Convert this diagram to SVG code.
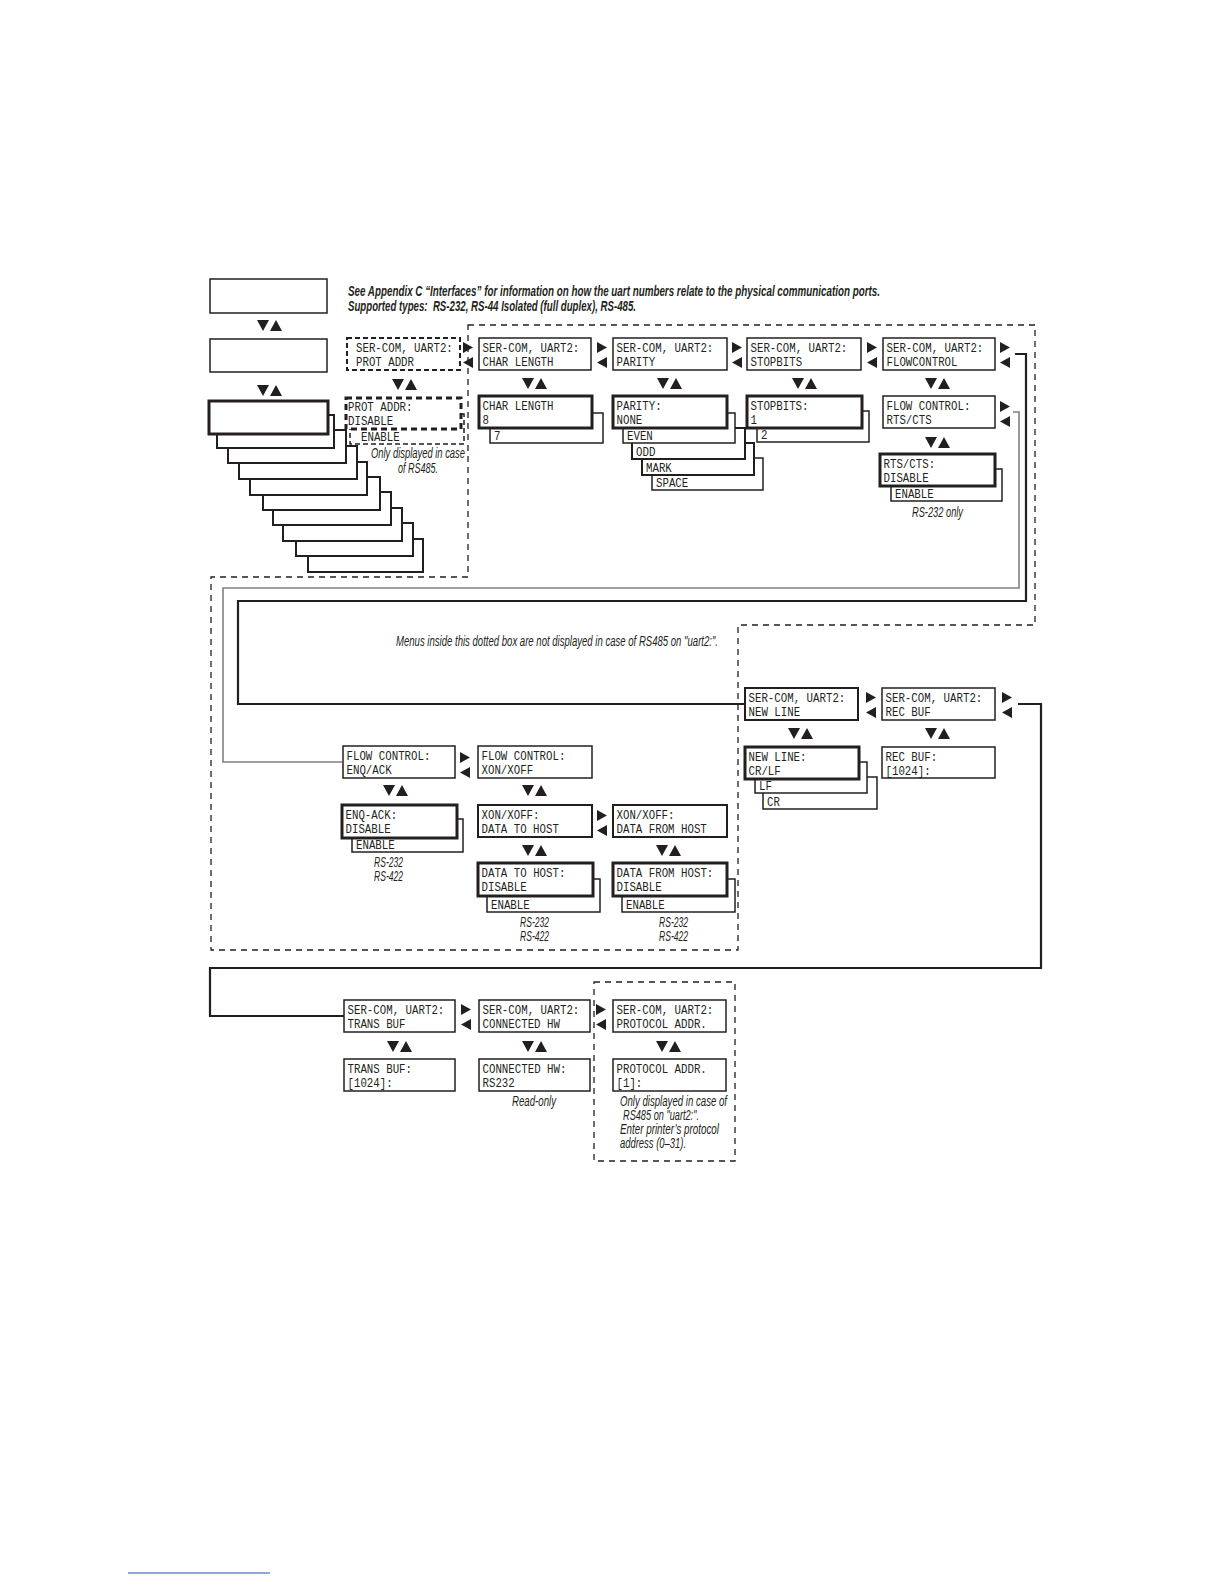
<svg xmlns="http://www.w3.org/2000/svg" width="1224" height="1584" viewBox="0 0 1224 1584">
<style>
.b{fill:#fff;stroke:#231f20;stroke-width:1.5}
.b2{fill:#fff;stroke:#231f20;stroke-width:2}
.k{fill:#fff;stroke:#231f20;stroke-width:3}
.m{font-family:"Liberation Mono","DejaVu Sans Mono",monospace;font-size:12.2px;fill:#231f20}
.n{font-family:"Liberation Sans",Arial,sans-serif;font-style:italic;font-size:14.5px;fill:#231f20}
.h{font-family:"Liberation Sans",Arial,sans-serif;font-style:italic;font-weight:bold;font-size:14px;fill:#231f20}
.d{fill:none;stroke:#231f20;stroke-width:1.3;stroke-dasharray:6 5}
.t{fill:#231f20}
.c{fill:none;stroke:#231f20;stroke-width:2.2}
.g{fill:none;stroke:#808080;stroke-width:1.6}
</style>
<defs>
<g id="lr"><path d="M0,0L10,5.5L0,11Z"/><path d="M10,15L0,20.5L10,26Z"/></g>
<path id="ud" d="M0,0H12L6,11Z M13,11H25L19,0Z"/>
</defs>
<rect width="1224" height="1584" fill="#fff"/>

<g id="header-notes">
<text class="h" x="348" y="296" textLength="532" lengthAdjust="spacingAndGlyphs">See Appendix C “Interfaces” for information on how the uart numbers relate to the physical communication ports.</text>
<text class="h" x="348" y="310.5" textLength="288" lengthAdjust="spacingAndGlyphs" xml:space="preserve">Supported types:  RS-232, RS-44 Isolated (full duplex), RS-485.</text>
</g>

<g id="regions">
<path class="d" d="M468,325H1035V625H738V950H211V577H468Z"/>
<rect class="d" x="594" y="982" width="141" height="179"/>
</g>

<g id="connectors">
<path class="g" d="M1013,412H1019V588H223V762H342"/>
<path class="c" d="M1015,354H1026V601H238V704H745"/>
<path class="c" d="M1018,704H1041V968H210V1016H344"/>
<g class="t">
<use href="#lr" x="463" y="342"/>
<use href="#lr" x="597" y="342"/>
<use href="#lr" x="732" y="342"/>
<use href="#lr" x="867" y="342"/>
<use href="#lr" x="1000" y="342"/>
<use href="#lr" x="1000" y="401"/>
<use href="#lr" x="460" y="752"/>
<use href="#lr" x="597" y="810"/>
<use href="#lr" x="866" y="692"/>
<use href="#lr" x="1002" y="692"/>
<use href="#lr" x="461" y="1004"/>
<use href="#lr" x="596" y="1004"/>
<use href="#ud" x="257" y="320"/>
<use href="#ud" x="257" y="385"/>
<use href="#ud" x="392" y="379"/>
<use href="#ud" x="522" y="378"/>
<use href="#ud" x="657" y="378"/>
<use href="#ud" x="792" y="378"/>
<use href="#ud" x="925" y="378"/>
<use href="#ud" x="925" y="437"/>
<use href="#ud" x="383" y="785"/>
<use href="#ud" x="522" y="785"/>
<use href="#ud" x="522" y="845"/>
<use href="#ud" x="656" y="845"/>
<use href="#ud" x="788" y="728"/>
<use href="#ud" x="925" y="728"/>
<use href="#ud" x="387" y="1041"/>
<use href="#ud" x="522" y="1041"/>
<use href="#ud" x="656" y="1041"/>
</g>
</g>

<g id="menu-top"><rect class="b" x="210" y="279" width="117" height="34"/></g>
<g id="menu-second"><rect class="b" x="210" y="339" width="117" height="33"/></g>
<g id="menu-stack">
<rect class="b2" x="308" y="539" width="115" height="33"/>
<rect class="b2" x="296" y="523" width="117" height="33"/>
<rect class="b2" x="283" y="508" width="119" height="33"/>
<rect class="b2" x="273" y="492" width="118" height="33"/>
<rect class="b2" x="263" y="477" width="117" height="33"/>
<rect class="b2" x="250" y="462" width="117" height="33"/>
<rect class="b2" x="239" y="446" width="118" height="33"/>
<rect class="b2" x="228" y="430" width="118" height="33"/>
<rect class="b2" x="217" y="415" width="117" height="33"/>
<rect class="k" x="209" y="401" width="119" height="33"/>
</g>

<g id="prot-addr-header">
<rect x="347" y="338" width="113" height="32" fill="#fff" stroke="#231f20" stroke-width="2" stroke-dasharray="5 3"/>
<text class="m" x="356" y="351.5" textLength="96.8" lengthAdjust="spacingAndGlyphs">SER-COM, UART2:</text>
<text class="m" x="356" y="365.5" textLength="58" lengthAdjust="spacingAndGlyphs">PROT ADDR</text>
</g>
<g id="prot-addr-value">
<rect x="350" y="414" width="114" height="30" fill="#fff" stroke="#231f20" stroke-width="1.5" stroke-dasharray="5 3"/>
<text class="m" x="361" y="441" textLength="38.7" lengthAdjust="spacingAndGlyphs">ENABLE</text>
<rect x="346" y="398" width="115" height="31" fill="#fff" stroke="#231f20" stroke-width="3" stroke-dasharray="6 4"/>
<text class="m" x="348" y="411" textLength="64.5" lengthAdjust="spacingAndGlyphs">PROT ADDR:</text>
<text class="m" x="348" y="425" textLength="45.2" lengthAdjust="spacingAndGlyphs">DISABLE</text>
<text class="n" x="371" y="458" textLength="94" lengthAdjust="spacingAndGlyphs">Only displayed in case</text>
<text class="n" x="398" y="473" textLength="40" lengthAdjust="spacingAndGlyphs">of RS485.</text>
</g>

<g id="char-length-header">
<rect class="b" x="479" y="338" width="112" height="32"/>
<text class="m" x="482.5" y="351.5" textLength="96.8" lengthAdjust="spacingAndGlyphs">SER-COM, UART2:</text>
<text class="m" x="482.5" y="365.5" textLength="71" lengthAdjust="spacingAndGlyphs">CHAR LENGTH</text>
</g>
<g id="char-length-value">
<rect class="b" x="490" y="413" width="113" height="30"/>
<text class="m" x="494" y="440" textLength="6.45" lengthAdjust="spacingAndGlyphs">7</text>
<rect class="k" x="479" y="396" width="113" height="32"/>
<text class="m" x="482.5" y="409.5" textLength="71" lengthAdjust="spacingAndGlyphs">CHAR LENGTH</text>
<text class="m" x="482.5" y="423.5" textLength="6.45" lengthAdjust="spacingAndGlyphs">8</text>
</g>

<g id="parity-header">
<rect class="b" x="613" y="338" width="114" height="32"/>
<text class="m" x="616.5" y="351.5" textLength="96.8" lengthAdjust="spacingAndGlyphs">SER-COM, UART2:</text>
<text class="m" x="616.5" y="365.5" textLength="38.7" lengthAdjust="spacingAndGlyphs">PARITY</text>
</g>
<g id="parity-value">
<rect class="b" x="652" y="458" width="111" height="32"/>
<text class="m" x="656" y="486.5" textLength="32.3" lengthAdjust="spacingAndGlyphs">SPACE</text>
<rect class="b2" x="642" y="443" width="112" height="32"/>
<text class="m" x="646" y="471.5" textLength="25.8" lengthAdjust="spacingAndGlyphs">MARK</text>
<rect class="b2" x="632" y="428" width="113" height="31"/>
<text class="m" x="636" y="455.5" textLength="19.4" lengthAdjust="spacingAndGlyphs">ODD</text>
<rect class="b" x="623" y="413" width="112" height="30"/>
<text class="m" x="627" y="440" textLength="25.8" lengthAdjust="spacingAndGlyphs">EVEN</text>
<rect class="k" x="613" y="396" width="114" height="32"/>
<text class="m" x="616.5" y="409.5" textLength="45.2" lengthAdjust="spacingAndGlyphs">PARITY:</text>
<text class="m" x="616.5" y="423.5" textLength="25.8" lengthAdjust="spacingAndGlyphs">NONE</text>
</g>

<g id="stopbits-header">
<rect class="b" x="747" y="338" width="114" height="32"/>
<text class="m" x="750.5" y="351.5" textLength="96.8" lengthAdjust="spacingAndGlyphs">SER-COM, UART2:</text>
<text class="m" x="750.5" y="365.5" textLength="51.6" lengthAdjust="spacingAndGlyphs">STOPBITS</text>
</g>
<g id="stopbits-value">
<rect class="b" x="757" y="411" width="112" height="31"/>
<text class="m" x="761" y="438.5" textLength="6.45" lengthAdjust="spacingAndGlyphs">2</text>
<rect class="k" x="747" y="396" width="115" height="32"/>
<text class="m" x="750.5" y="409.5" textLength="58" lengthAdjust="spacingAndGlyphs">STOPBITS:</text>
<text class="m" x="750.5" y="423.5" textLength="6.45" lengthAdjust="spacingAndGlyphs">1</text>
</g>

<g id="flowcontrol-header">
<rect class="b" x="883" y="338" width="112" height="32"/>
<text class="m" x="886.5" y="351.5" textLength="96.8" lengthAdjust="spacingAndGlyphs">SER-COM, UART2:</text>
<text class="m" x="886.5" y="365.5" textLength="71" lengthAdjust="spacingAndGlyphs">FLOWCONTROL</text>
</g>
<g id="flowcontrol-rtscts">
<rect class="b" x="883" y="396" width="112" height="32"/>
<text class="m" x="886.5" y="409.5" textLength="83.9" lengthAdjust="spacingAndGlyphs">FLOW CONTROL:</text>
<text class="m" x="886.5" y="423.5" textLength="45.2" lengthAdjust="spacingAndGlyphs">RTS/CTS</text>
</g>
<g id="rtscts-value">
<rect class="b" x="891" y="469" width="111" height="32"/>
<text class="m" x="895" y="497.5" textLength="38.7" lengthAdjust="spacingAndGlyphs">ENABLE</text>
<rect class="k" x="880" y="454" width="115" height="32"/>
<text class="m" x="883.5" y="467.5" textLength="51.6" lengthAdjust="spacingAndGlyphs">RTS/CTS:</text>
<text class="m" x="883.5" y="481.5" textLength="45.2" lengthAdjust="spacingAndGlyphs">DISABLE</text>
<text class="n" x="912" y="517" textLength="51" lengthAdjust="spacingAndGlyphs">RS-232 only</text>
</g>

<g id="dotted-note">
<text class="n" x="396" y="646" textLength="322" lengthAdjust="spacingAndGlyphs">Menus inside this dotted box are not displayed in case of RS485 on "uart2:".</text>
</g>

<g id="flowcontrol-enqack">
<rect class="b" x="343" y="746" width="112" height="32"/>
<text class="m" x="346.5" y="759.5" textLength="83.9" lengthAdjust="spacingAndGlyphs">FLOW CONTROL:</text>
<text class="m" x="346.5" y="773.5" textLength="45.2" lengthAdjust="spacingAndGlyphs">ENQ/ACK</text>
</g>
<g id="enqack-value">
<rect class="b" x="352" y="819" width="111" height="33"/>
<text class="m" x="356" y="848.5" textLength="38.7" lengthAdjust="spacingAndGlyphs">ENABLE</text>
<rect class="k" x="342" y="805" width="115" height="33"/>
<text class="m" x="345.5" y="818.5" textLength="51.6" lengthAdjust="spacingAndGlyphs">ENQ-ACK:</text>
<text class="m" x="345.5" y="832.5" textLength="45.2" lengthAdjust="spacingAndGlyphs">DISABLE</text>
<text class="n" x="374" y="867" textLength="29" lengthAdjust="spacingAndGlyphs">RS-232</text>
<text class="n" x="374" y="881" textLength="29" lengthAdjust="spacingAndGlyphs">RS-422</text>
</g>

<g id="flowcontrol-xonxoff">
<rect class="b" x="478" y="746" width="114" height="32"/>
<text class="m" x="481.5" y="759.5" textLength="83.9" lengthAdjust="spacingAndGlyphs">FLOW CONTROL:</text>
<text class="m" x="481.5" y="773.5" textLength="51.6" lengthAdjust="spacingAndGlyphs">XON/XOFF</text>
</g>
<g id="xonxoff-to-host">
<rect class="b2" x="478" y="805" width="114" height="32"/>
<text class="m" x="481.5" y="818.5" textLength="58" lengthAdjust="spacingAndGlyphs">XON/XOFF:</text>
<text class="m" x="481.5" y="832.5" textLength="77.4" lengthAdjust="spacingAndGlyphs">DATA TO HOST</text>
</g>
<g id="xonxoff-from-host">
<rect class="b2" x="613" y="805" width="114" height="32"/>
<text class="m" x="616.5" y="818.5" textLength="58" lengthAdjust="spacingAndGlyphs">XON/XOFF:</text>
<text class="m" x="616.5" y="832.5" textLength="90.3" lengthAdjust="spacingAndGlyphs">DATA FROM HOST</text>
</g>
<g id="to-host-value">
<rect class="b" x="487" y="879" width="113" height="33"/>
<text class="m" x="491" y="908.5" textLength="38.7" lengthAdjust="spacingAndGlyphs">ENABLE</text>
<rect class="k" x="478" y="863" width="115" height="33"/>
<text class="m" x="481.5" y="876.5" textLength="83.9" lengthAdjust="spacingAndGlyphs">DATA TO HOST:</text>
<text class="m" x="481.5" y="890.5" textLength="45.2" lengthAdjust="spacingAndGlyphs">DISABLE</text>
<text class="n" x="520" y="927" textLength="29" lengthAdjust="spacingAndGlyphs">RS-232</text>
<text class="n" x="520" y="941" textLength="29" lengthAdjust="spacingAndGlyphs">RS-422</text>
</g>
<g id="from-host-value">
<rect class="b" x="622" y="879" width="113" height="33"/>
<text class="m" x="626" y="908.5" textLength="38.7" lengthAdjust="spacingAndGlyphs">ENABLE</text>
<rect class="k" x="613" y="863" width="114" height="33"/>
<text class="m" x="616.5" y="876.5" textLength="96.8" lengthAdjust="spacingAndGlyphs">DATA FROM HOST:</text>
<text class="m" x="616.5" y="890.5" textLength="45.2" lengthAdjust="spacingAndGlyphs">DISABLE</text>
<text class="n" x="659" y="927" textLength="29" lengthAdjust="spacingAndGlyphs">RS-232</text>
<text class="n" x="659" y="941" textLength="29" lengthAdjust="spacingAndGlyphs">RS-422</text>
</g>

<g id="newline-header">
<rect class="b2" x="745" y="688" width="113" height="32"/>
<text class="m" x="748.5" y="701.5" textLength="96.8" lengthAdjust="spacingAndGlyphs">SER-COM, UART2:</text>
<text class="m" x="748.5" y="715.5" textLength="51.6" lengthAdjust="spacingAndGlyphs">NEW LINE</text>
</g>
<g id="newline-value">
<rect class="b" x="763" y="777" width="114" height="32"/>
<text class="m" x="767" y="805.5" textLength="12.9" lengthAdjust="spacingAndGlyphs">CR</text>
<rect class="b" x="755" y="762" width="112" height="31"/>
<text class="m" x="759" y="789.5" textLength="12.9" lengthAdjust="spacingAndGlyphs">LF</text>
<rect class="k" x="745" y="747" width="114" height="32"/>
<text class="m" x="748.5" y="760.5" textLength="58" lengthAdjust="spacingAndGlyphs">NEW LINE:</text>
<text class="m" x="748.5" y="774.5" textLength="32.3" lengthAdjust="spacingAndGlyphs">CR/LF</text>
</g>
<g id="recbuf-header">
<rect class="b" x="882" y="688" width="113" height="32"/>
<text class="m" x="885.5" y="701.5" textLength="96.8" lengthAdjust="spacingAndGlyphs">SER-COM, UART2:</text>
<text class="m" x="885.5" y="715.5" textLength="45.2" lengthAdjust="spacingAndGlyphs">REC BUF</text>
</g>
<g id="recbuf-value">
<rect class="b" x="882" y="747" width="113" height="31"/>
<text class="m" x="885.5" y="760.5" textLength="51.6" lengthAdjust="spacingAndGlyphs">REC BUF:</text>
<text class="m" x="885.5" y="774.5" textLength="45.2" lengthAdjust="spacingAndGlyphs">[1024]:</text>
</g>

<g id="transbuf-header">
<rect class="b" x="344" y="1000" width="111" height="32"/>
<text class="m" x="347.5" y="1013.5" textLength="96.8" lengthAdjust="spacingAndGlyphs">SER-COM, UART2:</text>
<text class="m" x="347.5" y="1027.5" textLength="58" lengthAdjust="spacingAndGlyphs">TRANS BUF</text>
</g>
<g id="transbuf-value">
<rect class="b" x="344" y="1059" width="111" height="32"/>
<text class="m" x="347.5" y="1072.5" textLength="64.5" lengthAdjust="spacingAndGlyphs">TRANS BUF:</text>
<text class="m" x="347.5" y="1086.5" textLength="45.2" lengthAdjust="spacingAndGlyphs">[1024]:</text>
</g>
<g id="connectedhw-header">
<rect class="b" x="479" y="1000" width="111" height="32"/>
<text class="m" x="482.5" y="1013.5" textLength="96.8" lengthAdjust="spacingAndGlyphs">SER-COM, UART2:</text>
<text class="m" x="482.5" y="1027.5" textLength="77.4" lengthAdjust="spacingAndGlyphs">CONNECTED HW</text>
</g>
<g id="connectedhw-value">
<rect class="b" x="479" y="1059" width="111" height="32"/>
<text class="m" x="482.5" y="1072.5" textLength="83.9" lengthAdjust="spacingAndGlyphs">CONNECTED HW:</text>
<text class="m" x="482.5" y="1086.5" textLength="32.3" lengthAdjust="spacingAndGlyphs">RS232</text>
<text class="n" x="512" y="1106" textLength="44" lengthAdjust="spacingAndGlyphs">Read-only</text>
</g>
<g id="protocoladdr-header">
<rect class="b" x="613" y="1000" width="113" height="32"/>
<text class="m" x="616.5" y="1013.5" textLength="96.8" lengthAdjust="spacingAndGlyphs">SER-COM, UART2:</text>
<text class="m" x="616.5" y="1027.5" textLength="90.3" lengthAdjust="spacingAndGlyphs">PROTOCOL ADDR.</text>
</g>
<g id="protocoladdr-value">
<rect class="b" x="613" y="1059" width="113" height="32"/>
<text class="m" x="616.5" y="1072.5" textLength="90.3" lengthAdjust="spacingAndGlyphs">PROTOCOL ADDR.</text>
<text class="m" x="616.5" y="1086.5" textLength="25.8" lengthAdjust="spacingAndGlyphs">[1]:</text>
<text class="n" x="620" y="1106" textLength="107" lengthAdjust="spacingAndGlyphs">Only displayed in case of</text>
<text class="n" x="623" y="1120" textLength="76" lengthAdjust="spacingAndGlyphs">RS485 on "uart2:".</text>
<text class="n" x="620" y="1134" textLength="99" lengthAdjust="spacingAndGlyphs">Enter printer’s protocol</text>
<text class="n" x="620" y="1148" textLength="66" lengthAdjust="spacingAndGlyphs">address (0–31).</text>
</g>

<line x1="128" y1="1573" x2="270" y2="1573" stroke="#2b4fc4" stroke-width="1"/>
</svg>
